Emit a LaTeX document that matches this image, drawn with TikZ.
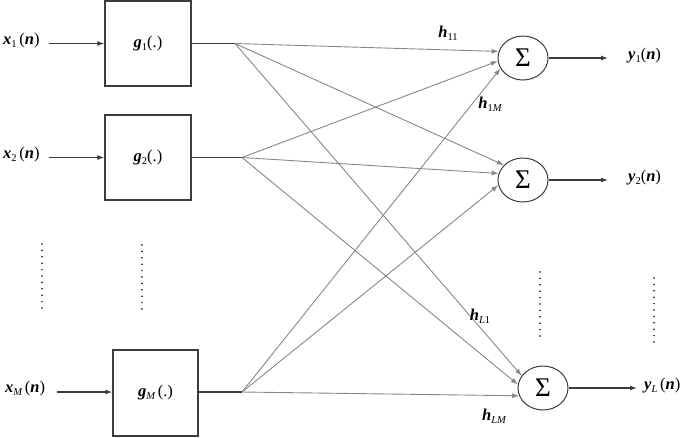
\documentclass[tikz,border=0pt]{standalone}
\usepackage{fontspec}
\setmainfont{Liberation Serif}
\usetikzlibrary{arrows.meta,shapes.geometric}
\definecolor{fangray}{RGB}{135,135,135}
\definecolor{linegray}{RGB}{60,60,60}
\newcommand{\bv}[1]{{\bfseries\itshape #1}}
\newcommand{\sbx}[1]{\raisebox{-0.35ex}{\fontsize{10.5}{11}\selectfont #1}}
\newcommand{\iv}[1]{{\itshape #1}}
\begin{document}
\begin{tikzpicture}[x=1pt,y=-1pt,
  blk/.style={draw=linegray,line width=1.2pt,inner sep=0pt,minimum width=86pt,minimum height=85pt,font=\fontsize{16.5}{18}\selectfont},
  sum/.style={draw=linegray,line width=1pt,ellipse,inner sep=0pt,minimum width=50pt,minimum height=44pt,font=\fontsize{27}{28}\selectfont},
  lbl/.style={inner sep=0pt,anchor=west,font=\fontsize{16.5}{18}\selectfont},
  hl/.style={inner sep=0pt,font=\fontsize{16.5}{18}\selectfont},
  sig/.style={draw=linegray,line width=1.2pt,-{Latex[length=7pt,width=5pt]}},
  wire/.style={draw=linegray,line width=1.2pt},
  fan/.style={draw=fangray,line width=0.9pt,-{Latex[length=7pt,width=5pt]}},
  dots/.style={draw=black,line width=1.7pt,line cap=round,dash pattern=on 0pt off 6.4pt}
]
\useasboundingbox (0,0) rectangle (685,437);
% blocks
\node[blk] (g1) at (148,43.5) {\bv{g}\sbx{1}(.)};
\node[blk] (g2) at (148,157.5) {\bv{g}\sbx{2}(.)};
\node[blk,minimum width=85pt,minimum height=86pt] (gM) at (155.5,393) {\bv{g}\sbx{\iv{M}}\,(.)};
% inputs
\node[lbl] (x1) at (3,41) {\bv{x}\sbx{1}\,(\bv{n})};
\node[lbl] (x2) at (3,155) {\bv{x}\sbx{2}\,(\bv{n})};
\node[lbl] (xM) at (5,389) {\bv{x}\sbx{\iv{M}}\,(\bv{n})};
\coordinate (i1) at (49,43.5);
\coordinate (i2) at (49,157.5);
\coordinate (iM) at (57,392);
\draw[sig] (i1) -- (g1.west);
\draw[sig] (i2) -- (g2.west);
\draw[sig] (iM) -- (gM.west |- iM);
% fan points
\coordinate (f1) at (235,43.5);
\coordinate (f2) at (242,157.5);
\coordinate (fM) at (242,392);
\draw[wire] (g1.east) -- (f1);
\draw[wire] (g2.east) -- (f2);
\draw[wire] (gM.east |- fM) -- (fM);
% sums
\node[sum] (s1) at (523,58) {Σ};
\node[sum] (s2) at (523,180) {Σ};
\node[sum] (sL) at (543,388) {Σ};
% fan connections
\draw[fan] (f1) -- (s1.165);
\draw[fan] (f2) -- (s1.187);
\draw[fan] (fM) -- (s1.205);
\draw[fan] (f1) -- (s2.142);
\draw[fan] (f2) -- (s2.165);
\draw[fan] (fM) -- (s2.192);
\draw[fan] (f1) -- (sL.150);
\draw[fan] (f2) -- (sL.172);
\draw[fan] (fM) -- (sL.198);
% outputs
\coordinate (o1) at (608,58);
\coordinate (o2) at (608,180);
\coordinate (oL) at (637,388);
\draw[sig] (s1.east) -- (o1);
\draw[sig] (s2.east) -- (o2);
\draw[sig] (sL.east) -- (oL);
\node[lbl] (y1) at (628,56) {\bv{y}\sbx{1}(\bv{n})};
\node[lbl] (y2) at (628,178) {\bv{y}\sbx{2}(\bv{n})};
\node[lbl] (yL) at (644,386) {\bv{y}\sbx{\iv{L}}\,(\bv{n})};
% weight labels
\node[hl] (h11) at (448,33) {\bv{h}\sbx{11}};
\node[hl] (h1M) at (490,104) {\bv{h}\sbx{1\iv{M}}};
\node[hl] (hL1) at (480,316) {\bv{h}\sbx{\iv{L}1}};
\node[hl] (hLM) at (494,416) {\bv{h}\sbx{\iv{LM}}};
% dotted continuations
\coordinate (d1a) at (42,244); \coordinate (d1b) at (42,308);
\coordinate (d2a) at (142,245); \coordinate (d2b) at (142,311);
\coordinate (d3a) at (540,272); \coordinate (d3b) at (540,337);
\coordinate (d4a) at (654,278); \coordinate (d4b) at (654,343);
\draw[dots] (d1a) -- (d1b);
\draw[dots] (d2a) -- (d2b);
\draw[dots] (d3a) -- (d3b);
\draw[dots] (d4a) -- (d4b);
\end{tikzpicture}
\end{document}
